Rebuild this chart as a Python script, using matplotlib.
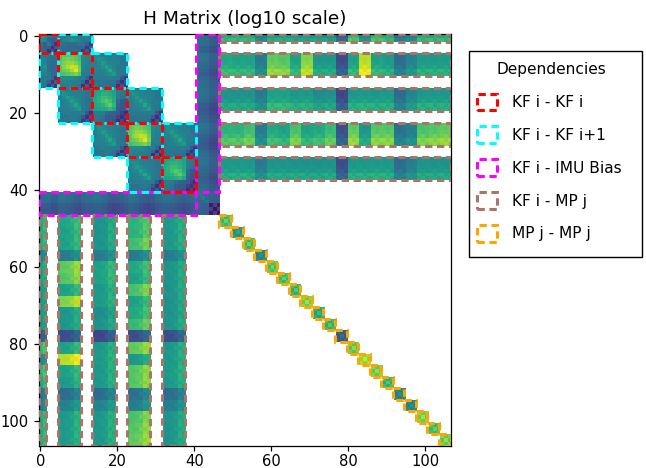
import numpy as np
import matplotlib
matplotlib.use("Agg")
import matplotlib.pyplot as plt
from matplotlib.patches import Rectangle

# ==========================
# BLOCK LAYOUT (state sizes)
# ==========================

kf_sizes = [5, 9, 9, 9, 9]
bias_size = 6
mp_size = 3
mp_count = 20
tick_labels = [0, 20, 40, 60, 80, 100]

# ==========================
# VALUES (colour level, 0 to 1)
# ==========================

# one row per keyframe, one value per map point
kf0_mp = [.60, .60, .60, .42, .55, .55, .52, .52, .52, .50, .28, .66, .45, .65, .60, .37, .42, .60, .60, .60]
kf1_mp = [.62, .60, .60, .44, .78, .76, .60, .84, .55, .55, .26, .60, .92, .60, .57, .38, .47, .57, .57, .57]
kf2_mp = [.54, .54, .54, .44, .60, .60, .56, .57, .51, .53, .24, .56, .57, .56, .56, .38, .48, .56, .56, .56]
kf3_mp = [.67, .67, .72, .44, .63, .60, .74, .60, .63, .70, .27, .78, .55, .76, .76, .40, .45, .74, .76, .78]
kf4_mp = [.56, .56, .56, .44, .54, .54, .54, .53, .53, .54, .27, .56, .56, .57, .56, .38, .45, .54, .54, .54]

# variation inside one 6x3 keyframe / map point block
kf_mp_detail = [
    [-.03, -.02, -.03],
    [-.03, -.04, -.02],
    [-.01, -.03, -.01],
    [.00, .03, -.01],
    [.09, .04, .08],
    [.06, .08, .04],
]

mp_diag = [.72, .55, .72, .48, .74, .72, .68, .82, .62, .68, .32, .78, .88, .80, .68, .47, .48, .82, .72, .80]
mp_detail = [
    [.03, -.06, .01],
    [-.06, .06, -.06],
    [.01, -.06, .03],
]

kf0_diag = [
    [.55, .50, .38, .36, .34],
    [.50, .46, .32, .30, .32],
    [.38, .32, .42, .30, .13],
    [.36, .30, .30, .13, .30],
    [.34, .32, .13, .30, .12],
]

kf0_next = [
    [.42, .44, .46, .46, .44, .42, .40, .40, .38],
    [.40, .44, .46, .50, .48, .44, .40, .40, .38],
    [.40, .38, .36, .36, .36, .38, .38, .32, .15],
    [.38, .36, .34, .34, .34, .34, .34, .15, .32],
    [.38, .36, .34, .34, .34, .34, .15, .32, .13],
]

kf_diag_bright = [
    [.70, .72, .74, .74, .72, .70, .47, .45, .45],
    [.74, .77, .80, .82, .77, .72, .47, .45, .43],
    [.74, .80, .84, .87, .80, .74, .47, .45, .43],
    [.74, .77, .84, .92, .87, .76, .47, .43, .43],
    [.72, .74, .80, .90, .96, .80, .45, .43, .41],
    [.68, .70, .74, .77, .80, .74, .41, .41, .39],
    [.47, .47, .47, .47, .45, .41, .43, .33, .13],
    [.45, .45, .45, .43, .43, .41, .33, .13, .33],
    [.45, .43, .43, .43, .41, .39, .13, .33, .11],
]

kf_diag_dim = [
    [.56, .58, .60, .61, .60, .56, .42, .40, .40],
    [.58, .61, .64, .64, .62, .58, .42, .40, .38],
    [.60, .64, .68, .70, .64, .60, .42, .38, .36],
    [.62, .64, .68, .74, .70, .62, .35, .30, .30],
    [.60, .62, .64, .70, .76, .66, .32, .28, .28],
    [.56, .58, .60, .62, .66, .60, .30, .28, .26],
    [.42, .42, .42, .35, .32, .30, .28, .20, .11],
    [.40, .40, .38, .28, .26, .26, .20, .13, .22],
    [.40, .38, .36, .26, .26, .26, .11, .22, .11],
]

kf_next = [
    [.47, .45, .43, .43, .43, .43, .41, .39, .39],
    [.45, .51, .47, .45, .43, .43, .41, .39, .39],
    [.43, .47, .55, .47, .45, .43, .43, .39, .39],
    [.43, .45, .49, .57, .49, .45, .41, .41, .39],
    [.43, .43, .45, .49, .60, .49, .41, .41, .39],
    [.41, .43, .43, .45, .49, .55, .41, .39, .37],
    [.41, .41, .41, .41, .41, .41, .41, .27, .15],
    [.39, .39, .39, .39, .39, .39, .27, .13, .27],
    [.39, .39, .39, .37, .37, .35, .13, .27, .15],
]

kf_bias = [
    .33, .33, .33, .29, .29,
    .35, .35, .33, .31, .29, .27, .31, .33, .33,
    .35, .35, .33, .31, .27, .25, .27, .29, .31,
    .35, .35, .33, .29, .27, .25, .27, .31, .33,
    .35, .35, .33, .31, .29, .27, .29, .31, .33,
]
bias_detail = [.04, .03, .02, -.04, -.05, -.04]

bias_diag = [
    [.38, .35, .33, .33, .31, .31],
    [.35, .40, .33, .31, .31, .29],
    [.33, .33, .38, .31, .29, .29],
    [.33, .31, .31, .06, .20, .06],
    [.31, .31, .29, .20, .04, .20],
    [.31, .29, .29, .06, .20, .04],
]

# ==========================
# BUILD MATRIX
# ==========================

kf_starts = np.cumsum([0] + kf_sizes)
bias_start = kf_starts[-1]
mp_start = bias_start + bias_size
size = mp_start + mp_size * mp_count

H = np.full((size, size), np.nan)


def put(row, col, block):
    # fill one block and its mirror, the matrix is symmetric
    block = np.asarray(block, dtype=float)
    h, w = block.shape
    H[row:row + h, col:col + w] = block
    H[col:col + w, row:row + h] = block.T


# keyframe blocks
diag_blocks = [kf0_diag, kf_diag_bright, kf_diag_dim, kf_diag_bright, kf_diag_dim]
for i, block in enumerate(diag_blocks):
    put(kf_starts[i], kf_starts[i], block)

put(kf_starts[0], kf_starts[1], kf0_next)
for i in range(1, 4):
    put(kf_starts[i], kf_starts[i + 1], kf_next)

# bias
put(bias_start, bias_start, bias_diag)
put(0, bias_start, np.outer(kf_bias, np.ones(bias_size)) + np.array(bias_detail))

# keyframe - map point, pose part only
detail = np.array(kf_mp_detail)
kf_mp_rows = [kf0_mp, kf1_mp, kf2_mp, kf3_mp, kf4_mp]
mp_row_ranges = []
for i, levels in enumerate(kf_mp_rows):
    if i == 0:
        row, rows = 0, detail[3:5]
    else:
        row, rows = kf_starts[i], detail
    mp_row_ranges.append((row, len(rows)))
    for j, level in enumerate(levels):
        put(row, mp_start + j * mp_size, level + rows)

# map point diagonal
for j, level in enumerate(mp_diag):
    put(mp_start + j * mp_size, mp_start + j * mp_size, level + np.array(mp_detail))

# ==========================
# PLOT
# ==========================

fig = plt.figure(figsize=(6.46, 4.68), dpi=100)
ax = fig.add_axes([38 / 646, 22 / 468, 413 / 646, 412 / 468])
ax.imshow(H, cmap="viridis", vmin=0, vmax=1, interpolation="nearest")

line_w = 2.2
dash = (0, (2.4, 1.5))
c_diag, c_next, c_bias, c_mp, c_map = "red", "cyan", "magenta", "#a97567", "orange"


def box(row, col, h, w, color):
    ax.add_patch(Rectangle((col - 0.5, row - 0.5), w, h, fill=False, edgecolor=color,
                           linewidth=line_w, linestyle=dash, zorder=3))


# KF i - MP j, both triangles
for row, rows in mp_row_ranges:
    box(row, mp_start, rows, size - mp_start, c_mp)
    box(mp_start, row, size - mp_start, rows, c_mp)

# MP j - MP j
for j in range(mp_count):
    start = mp_start + j * mp_size
    box(start, start, mp_size, mp_size, c_map)

# KF i - IMU Bias
box(0, bias_start, bias_start, bias_size, c_bias)
box(bias_start, 0, bias_size, bias_start, c_bias)

# KF i - KF i+1
for i in range(4):
    box(kf_starts[i], kf_starts[i + 1], kf_sizes[i], kf_sizes[i + 1], c_next)
    box(kf_starts[i + 1], kf_starts[i], kf_sizes[i + 1], kf_sizes[i], c_next)

# KF i - KF i
for i in range(5):
    box(kf_starts[i], kf_starts[i], kf_sizes[i], kf_sizes[i], c_diag)

ax.set_xticks(tick_labels)
ax.set_yticks(tick_labels)
ax.tick_params(labelsize=10.6, length=3.9, width=0.9)
ax.tick_params(axis="x", pad=2)
for spine in ax.spines.values():
    spine.set_linewidth(0.9)
ax.set_title("H Matrix (log10 scale)", fontsize=13.3, pad=7.2)

# ==========================
# LEGEND
# ==========================

names = ["KF i - KF i", "KF i - KF i+1", "KF i - IMU Bias", "KF i - MP j", "MP j - MP j"]
colors = [c_diag, c_next, c_bias, c_mp, c_map]
handles = [Rectangle((0, 0), 1, 1, fill=False, edgecolor=c, linewidth=line_w, linestyle=dash)
           for c in colors]

# frame drawn by hand, it is taller than the entries need
fig.add_artist(Rectangle((469 / 646, 211 / 468), 173 / 646, 206 / 468, transform=fig.transFigure,
                         facecolor="white", edgecolor="black", linewidth=1.0, zorder=-1))

leg = ax.legend(
    handles, names, title="Dependencies", fontsize=11.05, title_fontsize=11.05,
    loc="upper left", bbox_to_anchor=(469 / 646, 414 / 468, 164 / 646, 0),
    bbox_transform=fig.transFigure, mode="expand", borderaxespad=0,
    handlelength=1.3, handleheight=1.3, handletextpad=0.93, labelspacing=1.05,
    borderpad=0.55, frameon=False,
)

fig.savefig("out.png", dpi=100)
plt.close(fig)
